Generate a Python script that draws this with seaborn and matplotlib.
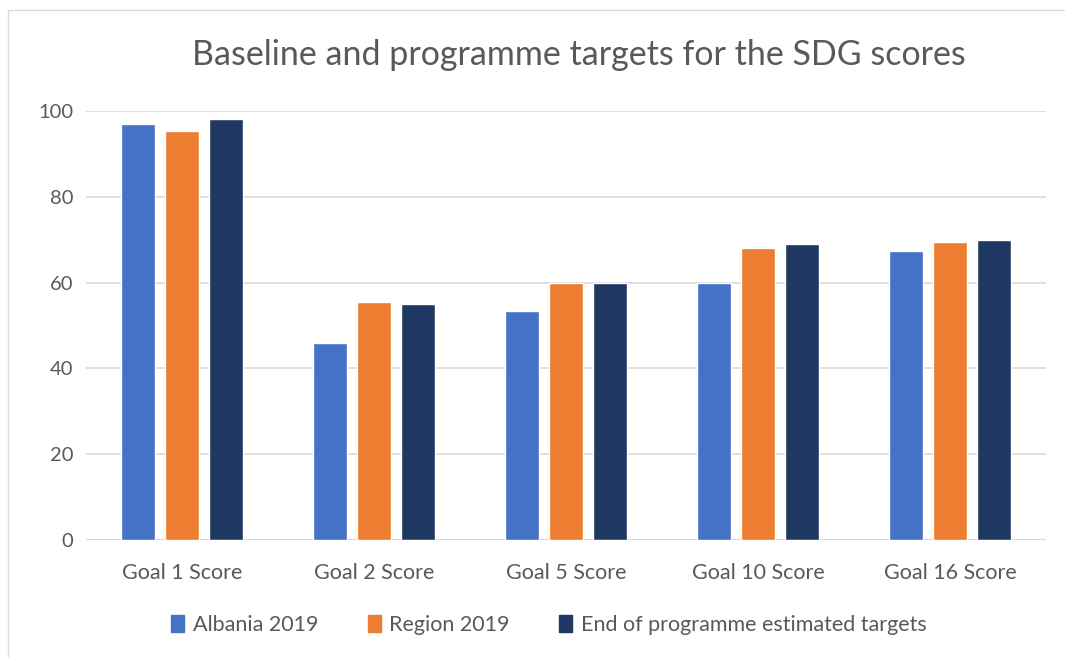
import pandas as pd
import numpy as np
import matplotlib
matplotlib.use("Agg")
import matplotlib.pyplot as plt
import seaborn as sns
from matplotlib.lines import Line2D

goals = ["Goal 1 Score", "Goal 2 Score", "Goal 5 Score", "Goal 10 Score", "Goal 16 Score"]
series = ["Albania 2019", "Region 2019", "End of programme estimated targets"]
albania = [96.9, 46.0, 53.3, 59.8, 67.3]
region = [95.2, 55.4, 59.9, 68.0, 69.4]
targets = [98.0, 55.0, 60.0, 69.0, 70.0]
colors = ["#4472C4", "#ED7D31", "#203864"]

df = pd.DataFrame({
    "goal": goals * 3,
    "series": [series[0]] * 5 + [series[1]] * 5 + [series[2]] * 5,
    "score": albania + region + targets,
})

sns.set_style("white")
plt.rcParams['font.family'] = ['Lato', 'DejaVu Sans']
grey = "#595959"

fig = plt.figure(figsize=(10.65, 6.57), dpi=100)
ax = fig.add_axes([0.0808, 0.1776, 0.9014, 0.6539])

sns.barplot(data=df, x="goal", y="score", hue="series", palette=colors,
            width=0.69, gap=0.23, ax=ax, saturation=1, legend=False)

ax.set_ylim(0, 100)
ax.set_xlim(-0.5, 4.5)
ax.set_yticks([0, 20, 40, 60, 80, 100])
ax.yaxis.grid(True, color="#d9d9d9", lw=1.2)
ax.set_axisbelow(True)
for s in ax.spines.values():
    s.set_visible(False)
ax.axhline(0, color="#d0d0d0", lw=1.5, zorder=0)
ax.set_xlabel("")
ax.set_ylabel("")
ax.tick_params(axis="y", length=0, pad=9, labelsize=14.5, labelcolor=grey)
ax.tick_params(axis="x", length=0, pad=16, labelsize=15.5, labelcolor=grey)

fig.text(0.5437, 0.916, "Baseline and programme targets for the SDG scores",
         ha="center", va="center", fontsize=24.5, color=grey)

handles = [plt.Rectangle((0, 0), 1, 1, color=c) for c in colors]
fig.legend(handles, series, loc="center", bbox_to_anchor=(0.5155, 0.049), ncol=3,
           frameon=False, handlelength=0.6, handleheight=0.8, handletextpad=0.4,
           columnspacing=2.3, fontsize=15.5, labelcolor=grey)

# chart frame edges (left and top)
fig.add_artist(Line2D([8 / 1065, 8 / 1065], [0, 1 - 10 / 657], color="#d9d9d9", lw=1))
fig.add_artist(Line2D([8 / 1065, 1], [1 - 10 / 657, 1 - 10 / 657], color="#d9d9d9", lw=1))

fig.savefig("out.png", dpi=100)
